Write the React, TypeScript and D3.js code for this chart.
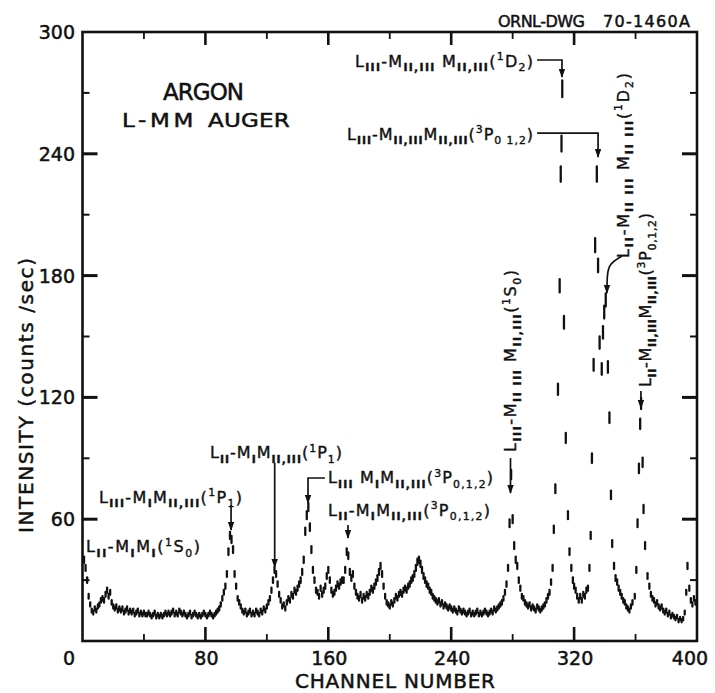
import React from 'react';
import * as d3 from 'd3';

const FONT = '"DejaVu Sans", Verdana, sans-serif';

// [channel, counts/sec]
const spectrum: [number, number][] = [
  [1,40],[2,36],[3,30],[4,22],[5,18],[6,15],[7,14],[8,16],[9,15],[10,17],
  [11,18],[12,20],[13,21],[14,20],[15,23],[16,25],[17,22],[18,24],[19,19],[20,17],
  [21,16],[22,17],[23,15],[24,16],[25,15],[26,16],[27,14],[28,15],[29,16],[30,14],
  [31,15],[32,14],[33,15],[34,13],[35,14],[36,15],[37,13],[38,14],[39,13],[40,14],
  [41,13],[42,13],[43,14],[44,13],[45,12],[46,13],[47,14],[48,12],[49,13],[50,12],
  [51,13],[52,12],[53,13],[54,14],[55,13],[56,14],[57,13],[58,14],[59,15],[60,13],
  [61,14],[62,13],[63,15],[64,14],[65,13],[66,14],[67,13],[68,12],[69,13],[70,14],
  [71,12],[72,13],[73,14],[74,13],[75,12],[76,13],[77,12],[78,13],[79,14],[80,13],
  [81,12],[82,13],[83,14],[84,13],[85,12],[86,13],[87,14],[88,15],[89,16],[90,18],
  [91,21],[92,24],[93,27],[94,33],[95,44],[96,52],[97,50],[98,45],[99,33],[100,27],
  [101,21],[102,19],[103,17],[104,15],[105,14],[106,15],[107,13],[108,14],[109,15],[110,13],
  [111,14],[112,13],[113,15],[114,14],[115,13],[116,15],[117,14],[118,16],[119,15],[120,17],
  [121,19],[122,21],[123,25],[124,30],[125,35],[126,33],[127,28],[128,23],[129,20],[130,17],
  [131,18],[132,16],[133,19],[134,21],[135,20],[136,23],[137,22],[138,25],[139,24],[140,26],
  [141,28],[142,30],[143,34],[144,40],[145,54],[146,62],[147,66],[148,56],[149,45],[150,35],
  [151,30],[152,25],[153,24],[154,22],[155,26],[156,23],[157,25],[158,27],[159,32],[160,35],
  [161,30],[162,25],[163,23],[164,24],[165,26],[166,28],[167,27],[168,29],[169,30],[170,30],
  [171,35],[172,44],[173,42],[174,34],[175,31],[176,33],[177,27],[178,24],[179,22],[180,21],
  [181,23],[182,20],[183,22],[184,21],[185,23],[186,22],[187,24],[188,26],[189,25],[190,27],
  [191,29],[192,31],[193,34],[194,37],[195,33],[196,27],[197,22],[198,19],[199,18],[200,17],
  [201,19],[202,18],[203,20],[204,22],[205,21],[206,23],[207,24],[208,23],[209,25],[210,26],
  [211,25],[212,27],[213,28],[214,30],[215,31],[216,33],[217,36],[218,39],[219,40],[220,38],
  [221,35],[222,32],[223,30],[224,28],[225,27],[226,25],[227,24],[228,22],[229,21],[230,20],
  [231,19],[232,20],[233,18],[234,19],[235,17],[236,18],[237,17],[238,16],[239,17],[240,16],
  [241,15],[242,16],[243,15],[244,14],[245,16],[246,15],[247,14],[248,15],[249,14],[250,13],
  [251,14],[252,15],[253,13],[254,14],[255,13],[256,14],[257,15],[258,13],[259,14],[260,13],
  [261,14],[262,15],[263,14],[264,13],[265,14],[266,15],[267,14],[268,16],[269,15],[270,16],
  [271,17],[272,18],[273,19],[274,21],[275,24],[276,28],[277,36],[278,58],[279,82],[280,60],
  [281,47],[282,40],[283,37],[284,30],[285,26],[286,22],[287,21],[288,19],[289,18],[290,17],
  [291,18],[292,16],[293,17],[294,16],[295,15],[296,17],[297,16],[298,15],[299,16],[300,17],
  [301,18],[302,20],[303,22],[304,24],[305,29],[306,36],[306.8,55],[307.8,75],[309.5,124],[310.6,175],
  [311.3,230],[311.8,245],[312.3,272],[313.4,157],[314.6,100],[316,62],[317,44],[318.2,36],[319.2,30],[320,27],
  [321,25],[322,22],[323,20],[324,22],[325,20],[326,23],[327,22],[328,25],[329,26],[330,36],
  [330.8,52],[331.6,90],[332.7,136],[333.7,195],[334.8,230],[335.6,185],[336.6,147],[338,134],[338.8,152],[339.6,162],
  [340.6,168],[342,135],[343,110],[344,72],[344.8,48],[346,37],[347,31],[348,29],[349,26],[350,24],
  [351,22],[352,20],[353,19],[354,17],[355,16],[356,15],[357,17],[358,19],[359.5,22],[360.5,35],
  [361.3,58],[362.2,85],[363,107],[363.6,117],[364.6,88],[365.2,65],[366.2,47],[367.8,32],[369,27],[370,23],
  [371,21],[372,20],[373,18],[374,19],[375,17],[376,16],[377,17],[378,15],[379,14],[380,15],
  [381,13],[382,14],[383,12],[384,13],[385,12],[386,11],[387,12],[388,10],[389,11],[390,10],
  [391,11],[392,14],[393,24],[393.8,37],[395,26],[396,20],[397,18],[398,21],[399,19],
];

const xMajor = [0, 80, 160, 240, 320, 400];
const xMinor = [40, 120, 200, 280, 360];
const yMajor = [0, 60, 120, 180, 240, 300];
const yMinor = [30, 90, 150, 210, 270];

// Annotation labels: anchor in data units (channel, intensity)
const labels = [
  { text: 'L_{II}-M_{I}M_{I}(^{1}S_{0})', ch: 2.3, v: 43.8, len: 114, rot: false },
  { text: 'L_{III}-M_{I}M_{II,III}(^{1}P_{1})', ch: 10.7, v: 68, len: 143, rot: false },
  { text: 'L_{II}-M_{I}M_{II,III}(^{1}P_{1})', ch: 83, v: 90.1, len: 132, rot: false },
  { text: 'L_{III} M_{I}M_{II,III}(^{3}P_{0,1,2})', ch: 159.8, v: 77.8, len: 165, rot: false },
  { text: 'L_{II}-M_{I}M_{II,III}(^{3}P_{0,1,2})', ch: 159.8, v: 61.6, len: 162, rot: false },
  { text: 'L_{III}-M_{II,III} M_{II,III}(^{1}D_{2})', ch: 177.4, v: 282.8, len: 178, rot: false },
  { text: 'L_{III}-M_{II,III}M_{II,III}(^{3}P_{0 1,2})', ch: 172.2, v: 246.8, len: 186, rot: false },
  { text: 'L_{III}-M_{II III} M_{II,III}(^{1}S_{0})', ch: 282.2, v: 93.1, len: 182, rot: true },
  { text: 'L_{II}-M_{II III} M_{II III}(^{1}D_{2})', ch: 355.7, v: 188.7, len: 185, rot: true },
  { text: 'L_{II}-M_{II,III}M_{II,III}(^{3}P_{0,1,2})', ch: 370.1, v: 125.1, len: 174, rot: true },
];

// Arrow leader lines: polylines in data units, arrowhead at last point
const arrows: [number, number][][] = [
  [[96.7, 67], [96.7, 54.7]],
  [[125.1, 87.7], [125.1, 36.5]],
  [[157.8, 80.3], [146.8, 80.3], [146.8, 68]],
  [[172.8, 57.1], [172.8, 50.7]],
  [[295.9, 286.2], [312.1, 286.2], [312.1, 277.8]],
  [[295.9, 250.2], [335.6, 250.2], [335.6, 238.4]],
  [[278.6, 90.1], [278.6, 72.9]],
  [[363.5, 123.2], [363.5, 114.8]],
];
const curvedArrow: [number, number][] = [[351.2, 189.7], [343, 186], [341.4, 180.3], [341.4, 171.4]];

function parseLabel(s: string) {
  const out: { t: string; k: 'n' | 'sub' | 'sup' }[] = [];
  const re = /([_^])\{([^}]*)\}/g;
  let last = 0;
  let m: RegExpExecArray | null;
  while ((m = re.exec(s))) {
    if (m.index > last) out.push({ t: s.slice(last, m.index), k: 'n' });
    out.push({ t: m[2], k: m[1] === '_' ? 'sub' : 'sup' });
    last = re.lastIndex;
  }
  if (last < s.length) out.push({ t: s.slice(last), k: 'n' });
  return out;
}

function Rich({ text, size }: { text: string; size: number }) {
  const segs = parseLabel(text);
  let cur = 0;
  return (
    <>
      {segs.map((s, i) => {
        const target = s.k === 'sub' ? 4.5 : s.k === 'sup' ? -6.5 : 0;
        const dy = target - cur;
        cur = target;
        return (
          <tspan key={i} dy={dy} fontSize={s.k === 'n' ? size : size * 0.68}
            fontWeight={s.k === 'sub' && /I/.test(s.t) ? 'bold' : 'normal'}>
            {s.t}
          </tspan>
        );
      })}
    </>
  );
}

export default function App() {
  const W = 715, H = 693;
  const x = d3.scaleLinear().domain([0, 400]).range([82.5, 697]);
  const y = d3.scaleLinear().domain([0, 300]).range([641, 32]);
  const [x0, x1] = x.range();
  const [y0, y1] = y.range();
  const err = (v: number) => 0.25 * Math.sqrt(v);
  const line = d3.line<[number, number]>().x((d) => x(d[0])).y((d) => y(d[1]));
  const curve = d3.line<[number, number]>().x((d) => x(d[0])).y((d) => y(d[1])).curve(d3.curveBasis);

  const arrowHead = (pts: [number, number][]) => {
    const a = pts[pts.length - 1];
    const tx = x(a[0]), ty = y(a[1]);
    return `M${tx},${ty + 1} L${tx - 3.2},${ty - 8} L${tx + 3.2},${ty - 8} Z`;
  };

  return (
    <svg width={W} height={H} style={{ position: 'absolute', left: 0, top: 0, background: '#fff' }}
      fontFamily={FONT} fill="#111">
      <rect width={W} height={H} fill="#fff" />
      {/* frame */}
      <rect x={x0} y={y1} width={x1 - x0} height={y0 - y1} fill="none" stroke="#111" strokeWidth={2.6} />
      {/* ticks */}
      <g stroke="#111" strokeLinecap="butt">
        {yMajor.slice(1, -1).map((v) => (
          <g key={'ym' + v}>
            <line x1={x0} x2={x0 + 15} y1={y(v)} y2={y(v)} strokeWidth={3} />
            <line x1={x1} x2={x1 - 15} y1={y(v)} y2={y(v)} strokeWidth={3} />
          </g>
        ))}
        {yMinor.map((v) => (
          <g key={'yn' + v}>
            <line x1={x0} x2={x0 + 7} y1={y(v)} y2={y(v)} strokeWidth={2} />
            <line x1={x1} x2={x1 - 7} y1={y(v)} y2={y(v)} strokeWidth={2} />
          </g>
        ))}
        {xMajor.slice(1, -1).map((c) => (
          <g key={'xm' + c}>
            <line x1={x(c)} x2={x(c)} y1={y0} y2={y0 - 14} strokeWidth={2.6} />
            <line x1={x(c)} x2={x(c)} y1={y1} y2={y1 + 13} strokeWidth={2.6} />
          </g>
        ))}
        {xMinor.map((c) => (
          <g key={'xn' + c}>
            <line x1={x(c)} x2={x(c)} y1={y0} y2={y0 - 7} strokeWidth={1.8} />
            <line x1={x(c)} x2={x(c)} y1={y1} y2={y1 + 7} strokeWidth={1.8} />
          </g>
        ))}
      </g>
      <g stroke="#111" strokeWidth={0.5}>
        {/* tick labels */}
        <g fontSize={19}>
          {yMajor.slice(1).map((v) => (
            <text key={'yl' + v} x={75} y={y(v)} textAnchor="end" dominantBaseline="central">{v}</text>
          ))}
          {xMajor.map((c) => (
            <text key={'xl' + c} x={x(c) + (c === 0 ? -13.5 : c === 400 ? -7 : 1)} y={665} textAnchor="middle">{c}</text>
          ))}
        </g>
        {/* axis titles */}
        <text x={295} y={688} fontSize={20} textLength={200} lengthAdjust="spacing">CHANNEL NUMBER</text>
        <text transform={`translate(33,533) rotate(-90)`} fontSize={20} textLength={275} lengthAdjust="spacing"
          style={{ whiteSpace: 'pre' }}>INTENSITY (counts /sec)</text>
        {/* header and title */}
        <text x={498} y={27} fontSize={16} textLength={87} lengthAdjust="spacing">ORNL-DWG</text>
        <text x={603} y={27} fontSize={16} textLength={87} lengthAdjust="spacing">70-1460A</text>
        <text x={163} y={100} fontSize={23} textLength={81} lengthAdjust="spacing">ARGON</text>
        <text transform="translate(122,127) scale(1.15,1)" fontSize={20} textLength={62} lengthAdjust="spacing">L-MM</text>
        <text transform="translate(208,127) scale(1.15,1)" fontSize={20} textLength={71} lengthAdjust="spacing">AUGER</text>
      </g>
      {/* spectrum points with error bars */}
      <g stroke="#111" strokeWidth={2.3} strokeLinecap="round">
        {spectrum.map(([c, v], i) => (
          <line key={i} x1={x(c)} x2={x(c)} y1={y(v - err(v))} y2={y(v + err(v))} />
        ))}
      </g>
      {/* annotation leaders */}
      <g stroke="#111" strokeWidth={1.7} fill="none">
        {arrows.map((a, i) => <path key={i} d={line(a) || ''} />)}
        <path d={curve(curvedArrow) || ''} />
      </g>
      <g fill="#111">
        {arrows.map((a, i) => <path key={i} d={arrowHead(a)} />)}
        <path d={arrowHead(curvedArrow)} />
      </g>
      {/* labels */}
      <g stroke="#111" strokeWidth={0.4}>
        {labels.map((l, i) => (
          <text key={i} fontSize={16} textLength={l.len} lengthAdjust="spacing" style={{ whiteSpace: 'pre' }}
            transform={l.rot ? `translate(${x(l.ch)},${y(l.v)}) rotate(-90)` : `translate(${x(l.ch)},${y(l.v)})`}>
            <Rich text={l.text} size={16} />
          </text>
        ))}
      </g>
    </svg>
  );
}
